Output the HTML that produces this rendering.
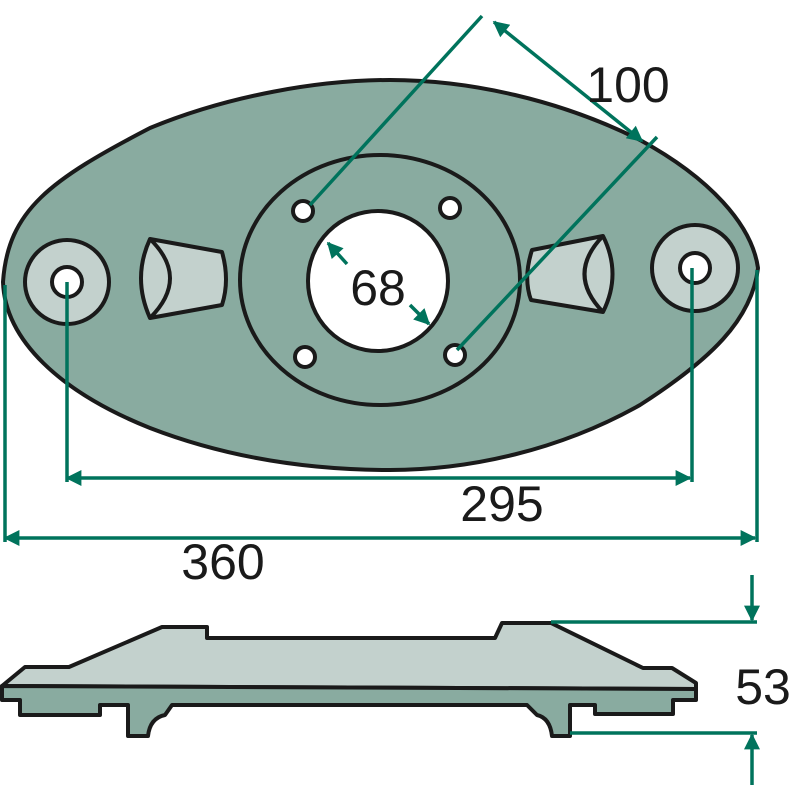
<!DOCTYPE html>
<html><head><meta charset="utf-8"><style>html,body{margin:0;padding:0;background:#fff}svg{display:block}</style></head><body>
<svg width="800" height="800" viewBox="0 0 800 800" xmlns="http://www.w3.org/2000/svg">
<defs>
<marker id="b" viewBox="0 0 10 10" refX="9" refY="5" markerWidth="22" markerHeight="16" orient="auto-start-reverse" markerUnits="userSpaceOnUse"><path d="M0,0 L10,5 L0,10 z" fill="#00735c"/></marker>
</defs>
<g stroke="#1a1a1a" stroke-width="4" stroke-linejoin="round">
<path d="M3,282 C8,210 50,180 150,128 C230,95 320,80 390,80 C470,80 560,100 640,140 C710,178 752,225 758,268 C752,320 710,360 640,405 C560,450 470,470 390,470 C300,470 220,455 150,428 C60,392 5,340 3,282 Z" fill="#89aba0"/>
<ellipse cx="380" cy="280" rx="140" ry="125" fill="#89aba0"/>
<circle cx="378" cy="281" r="70" fill="#fff"/>
<circle cx="303" cy="211" r="10" fill="#fff"/>
<circle cx="450" cy="208" r="10" fill="#fff"/>
<circle cx="305" cy="357" r="10" fill="#fff"/>
<circle cx="455" cy="355" r="10" fill="#fff"/>
<circle cx="67" cy="282" r="42" fill="#c3d1cd"/>
<circle cx="67" cy="282" r="15" fill="#fff"/>
<circle cx="695" cy="268" r="43" fill="#c3d1cd"/>
<circle cx="695" cy="268" r="15" fill="#fff"/>
<path d="M150,239 L222,252 Q230,280 222,305 L150,318 Q132,278 150,239 Z" fill="#c3d1cd"/>
<path d="M150,239 Q190,278 150,318" fill="none"/>
<path d="M603,236 L532,250 Q523,278 531,300 L603,312 Q622,274 603,236 Z" fill="#c3d1cd"/>
<path d="M603,236 Q566,274 603,312" fill="none"/>
<path d="M2,686 L25,667 L69,667 L162,627 L207,627 L207,638 L495,638 L502,623 L551,623 L643,668 L672,668 L696,683 L696,689 Z" fill="#c3d1cd"/>
<path d="M2,686 L696,689 L696,700 L673,700 L673,714 L595,714 L595,705 L570,705 L570,736 L552,736 Q550,718 537,715 L527,705 L172,705 L165,715 Q150,718 148,736 L128,736 L128,705 L100,705 L100,715 L20,715 L20,700 L2,700 Z" fill="#89aba0"/>
</g>
<g stroke="#00735c" stroke-width="3.5" fill="none">
<line x1="482" y1="16" x2="310" y2="205"/>
<line x1="657" y1="137" x2="457" y2="350"/>
<line x1="494" y1="22" x2="642" y2="141" marker-start="url(#b)" marker-end="url(#b)"/>
<line x1="328" y1="243" x2="347" y2="264" marker-start="url(#b)"/>
<line x1="410" y1="305" x2="429" y2="324" marker-end="url(#b)"/>
<line x1="67" y1="282" x2="67" y2="482"/>
<line x1="692" y1="268" x2="692" y2="482"/>
<line x1="67" y1="478" x2="690" y2="478" marker-start="url(#b)" marker-end="url(#b)"/>
<line x1="5" y1="285" x2="5" y2="542"/>
<line x1="757" y1="270" x2="757" y2="542"/>
<line x1="5" y1="538" x2="755" y2="538" marker-start="url(#b)" marker-end="url(#b)"/>
<line x1="551" y1="622" x2="757" y2="622"/>
<line x1="570" y1="733" x2="757" y2="733"/>
<line x1="752" y1="575" x2="752" y2="620" marker-end="url(#b)"/>
<line x1="752" y1="785" x2="752" y2="735" marker-end="url(#b)"/>
</g>
<g font-family="Liberation Sans, sans-serif" font-size="50" fill="#1a1a1a" text-anchor="middle">
<text x="628" y="102">100</text>
<text x="378" y="305">68</text>
<text x="502" y="521">295</text>
<text x="223" y="579">360</text>
<text x="763" y="704">53</text>
</g>
</svg>
</body></html>
